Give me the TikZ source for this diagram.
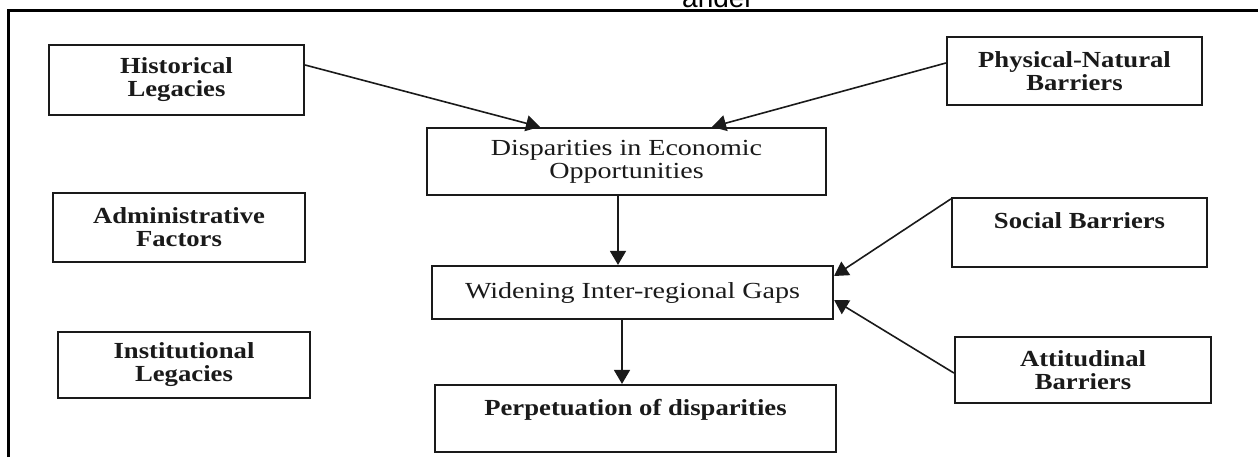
\documentclass[tikz,border=0pt]{standalone}
\usepackage{fontspec}
\setmainfont{Liberation Serif}
\newfontfamily\regf[FakeStretch=1.22]{Liberation Serif}
\newfontfamily\boldf[FakeStretch=1.16]{Liberation Serif}
\newfontfamily\sansf{Liberation Sans}
\usetikzlibrary{arrows.meta}
\definecolor{ink}{HTML}{1A1A1A}
\tikzset{
  box/.style={draw=ink, line width=1.1pt, rectangle, inner sep=0pt, align=center,
    font=\boldf\bfseries\fontsize{11.5}{11.5}\selectfont, text=ink},
  regbox/.style={box, font=\regf\fontsize{11.5}{11.5}\selectfont},
  conn/.style={draw=ink, line width=0.8pt, -{Triangle[length=7pt,width=8pt]}},
}
\begin{document}
\begin{tikzpicture}[x=0.5pt, y=-0.5pt]
\useasboundingbox[fill=white] (0,0) rectangle (1258,457);
% frame
\draw[line width=1.5pt, black] (8,457) -- (8,10) -- (1258,10);
\node[font=\sansf\fontsize{14}{14}\selectfont, anchor=base, text=black] (cut) at (718,7) {ander};
% boxes
\node[box, minimum width=127.5pt, minimum height=35pt] (hist) at (176.5,80) {Historical\\Legacies};
\node[box, minimum width=127.5pt, minimum height=34pt] (phys) at (1074.5,71) {Physical-Natural\\Barriers};
\node[regbox, minimum width=199.5pt, minimum height=33.5pt] (disp) at (626.5,161.5) {Disparities in Economic\\Opportunities};
\node[box, minimum width=126pt, minimum height=34.5pt] (admin) at (179,227.5) {Administrative\\Factors};
\node[box, minimum width=127.5pt, minimum height=34.5pt] (social) at (1079.5,232.5) {Social Barriers\\\mbox{}};
\node[regbox, minimum width=200.5pt, minimum height=26.5pt] (widen) at (632.5,292.5) {Widening Inter-regional Gaps};
\node[box, minimum width=126pt, minimum height=33pt] (inst) at (184,365) {Institutional\\Legacies};
\node[box, minimum width=128pt, minimum height=33pt] (attit) at (1083,370) {Attitudinal\\Barriers};
\node[box, minimum width=200.5pt, minimum height=33.5pt] (perp) at (635.5,418.5) {Perpetuation of disparities\\\mbox{}};
% connectors
\draw[conn] ([yshift=7.5pt]hist.east) -- ([xshift=-43.25pt]disp.north);
\draw[conn] ([yshift=4pt]phys.west) -- ([xshift=42.75pt]disp.north);
\draw[conn] ([xshift=-4.25pt]disp.south) -- ([xshift=-4.25pt]disp.south |- widen.north);
\draw[conn] ([xshift=-5.25pt]widen.south) -- ([xshift=-5.25pt]widen.south |- perp.north);
\draw[conn] ([yshift=-1pt]social.north west) -- ([yshift=8.25pt]widen.east);
\draw[conn] ([yshift=-1.5pt]attit.west) -- ([yshift=-3.75pt]widen.east);
\end{tikzpicture}
\end{document}
